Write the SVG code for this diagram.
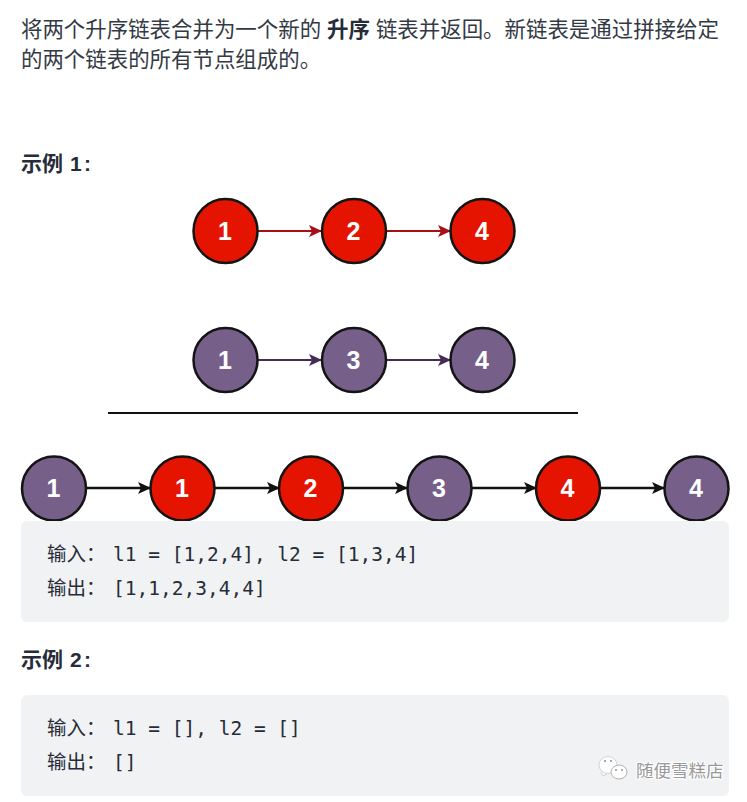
<svg xmlns="http://www.w3.org/2000/svg" width="747" height="802" viewBox="0 0 747 802">
<style>
.p{font-family:"Liberation Sans","Noto Sans CJK SC",sans-serif;font-size:21.45px;fill:#333a44}
.h{font-family:"Liberation Sans","Noto Sans CJK SC",sans-serif;font-size:21px;font-weight:700;fill:#262c38}
.b{font-weight:700;fill:#262c38}
.c{font-family:"DejaVu Sans Mono","Noto Sans CJK SC",monospace;font-size:19.5px;fill:#262c38}
.n{font-family:"Liberation Sans",sans-serif;font-size:25px;font-weight:700;fill:#fff;text-anchor:middle}
.red{fill:#e51400;stroke:#141414;stroke-width:2.5}
.pur{fill:#76608a;stroke:#141414;stroke-width:2.5}
.lr{stroke:#a50f15;stroke-width:2;fill:none}
.lp{stroke:#432d57;stroke-width:2;fill:none}
.lk{stroke:#111;stroke-width:2.3;fill:none}
.blk{fill:#f1f2f4}
</style>
<defs>
<marker id="ar" markerUnits="userSpaceOnUse" markerWidth="13" markerHeight="12" refX="12" refY="6" orient="auto"><path d="M0 0L13 6L0 12L3 6Z" fill="#a50f15"/></marker>
<marker id="ap" markerUnits="userSpaceOnUse" markerWidth="13" markerHeight="12" refX="12" refY="6" orient="auto"><path d="M0 0L13 6L0 12L3 6Z" fill="#432d57"/></marker>
<marker id="ak" markerUnits="userSpaceOnUse" markerWidth="13" markerHeight="12" refX="12" refY="6" orient="auto"><path d="M0 0L13 6L0 12L3 6Z" fill="#111"/></marker>
</defs>
<rect width="747" height="802" fill="#fff"/>
<g id="intro">
<text class="p" x="21" y="37">将两个升序链表合并为一个新的 <tspan class="b">升序</tspan> 链表并返回。新链表是通过拼接给定</text>
<text class="p" x="21" y="67">的两个链表的所有节点组成的。</text>
</g>
<text id="h1" class="h" x="21" y="171">示例 <tspan x="70">1</tspan><tspan x="84">:</tspan></text>
<g id="connectors">
<path class="lr" marker-end="url(#ar)" d="M257 231H321"/>
<path class="lr" marker-end="url(#ar)" d="M386 231H450"/>
<path class="lp" marker-end="url(#ap)" d="M257 360H321"/>
<path class="lp" marker-end="url(#ap)" d="M386 360H450"/>
<path class="lk" marker-end="url(#ak)" d="M86 488H150"/>
<path class="lk" marker-end="url(#ak)" d="M215 488H279"/>
<path class="lk" marker-end="url(#ak)" d="M343 488H407"/>
<path class="lk" marker-end="url(#ak)" d="M472 488H536"/>
<path class="lk" marker-end="url(#ak)" d="M600 488H664"/>
<path d="M108 413H578" stroke="#111" stroke-width="2" fill="none"/>
</g>
<g id="a1"><circle class="red" cx="225.5" cy="231" r="32"/><text class="n" x="225" y="240">1</text></g>
<g id="a2"><circle class="red" cx="354" cy="231" r="32"/><text class="n" x="353.5" y="240">2</text></g>
<g id="a3"><circle class="red" cx="482.5" cy="231" r="32"/><text class="n" x="482" y="240">4</text></g>
<g id="b1"><circle class="pur" cx="225.5" cy="360" r="32"/><text class="n" x="225" y="369">1</text></g>
<g id="b2"><circle class="pur" cx="354" cy="360" r="32"/><text class="n" x="353.5" y="369">3</text></g>
<g id="b3"><circle class="pur" cx="482.5" cy="360" r="32"/><text class="n" x="482" y="369">4</text></g>
<g id="m1"><circle class="pur" cx="54" cy="488.5" r="32"/><text class="n" x="53.5" y="497">1</text></g>
<g id="m2"><circle class="red" cx="182.5" cy="488.5" r="32"/><text class="n" x="182" y="497">1</text></g>
<g id="m3"><circle class="red" cx="311" cy="488.5" r="32"/><text class="n" x="310.5" y="497">2</text></g>
<g id="m4"><circle class="pur" cx="439.5" cy="488.5" r="32"/><text class="n" x="439" y="497">3</text></g>
<g id="m5"><circle class="red" cx="568" cy="488.5" r="32"/><text class="n" x="567.5" y="497">4</text></g>
<g id="m6"><circle class="pur" cx="696.5" cy="488.5" r="32"/><text class="n" x="696" y="497">4</text></g>
<g id="code1">
<rect class="blk" x="21" y="521" width="708" height="101" rx="6"/>
<text class="c" x="47" y="561">输入：<tspan x="113">l1 = [1,2,4], l2 = [1,3,4]</tspan></text>
<text class="c" x="47" y="595">输出：<tspan x="113">[1,1,2,3,4,4]</tspan></text>
</g>
<text id="h2" class="h" x="21" y="667">示例 <tspan x="70">2</tspan><tspan x="84">:</tspan></text>
<g id="code2">
<rect class="blk" x="21" y="695" width="708" height="101" rx="6"/>
<text class="c" x="47" y="735">输入：<tspan x="113">l1 = [], l2 = []</tspan></text>
<text class="c" x="47" y="769">输出：<tspan x="113">[]</tspan></text>
</g>
<g id="watermark">
<path d="M601 772L603 776L607 774" fill="#fff" stroke="#cfcfcf"/>
<ellipse cx="608" cy="765" rx="9" ry="8.5" fill="#fff" stroke="#d4d4d4"/>
<ellipse cx="619" cy="772" rx="8" ry="7" fill="#fff" stroke="#b0b0b0"/>
<circle cx="605" cy="761" r="1" fill="#888"/><circle cx="611" cy="761" r="1" fill="#888"/>
<circle cx="616" cy="770" r="0.9" fill="#888"/><circle cx="622" cy="770" r="0.9" fill="#888"/>
<text x="636" y="777" font-family="Noto Sans CJK SC,sans-serif" font-size="17.5" fill="#fff" stroke="#fff" stroke-width="2" paint-order="stroke">随便雪糕店</text>
<text x="636" y="777" font-family="Noto Sans CJK SC,sans-serif" font-size="17.5" fill="#999">随便雪糕店</text>
</g>
</svg>
